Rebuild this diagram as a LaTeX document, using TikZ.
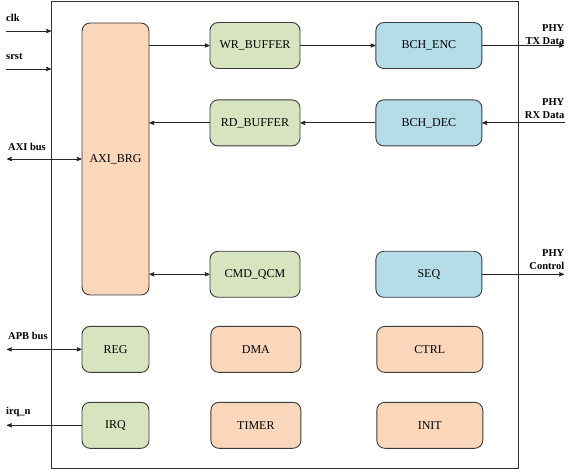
\documentclass[tikz,border=0pt]{standalone}
\usepackage{fontspec}
\setmainfont{Liberation Serif}
\usepackage{tikz}
\usetikzlibrary{shapes}
\usetikzlibrary{arrows,positioning}
\definecolor{blkorange}{HTML}{FAD7BA}
\definecolor{blkgreen}{HTML}{D7E4BF}
\definecolor{blkblue}{HTML}{B5DDE8}
\definecolor{blkline}{HTML}{3C3C3C}
\tikzstyle{blk}=[draw=blkline, line width=0.9pt, rounded corners=8pt, minimum height=46pt, inner sep=0pt, font=\rmfamily\fontsize{12}{14}\selectfont]
\tikzstyle{ob}=[blk, fill=blkorange]
\tikzstyle{gb}=[blk, fill=blkgreen]
\tikzstyle{bb}=[blk, fill=blkblue]
\tikzstyle{sza}=[minimum width=67pt]
\tikzstyle{szb}=[minimum width=90pt]
\tikzstyle{szc}=[minimum width=106pt]
\tikzstyle{wire}=[black!85, line width=0.8pt]
\tikzstyle{lbl}=[inner sep=0pt, font=\rmfamily\bfseries\fontsize{10.5}{13}\selectfont]
\begin{document}
\begin{tikzpicture}[->,>=stealth', x=1pt, y=1pt]
  \useasboundingbox (0,0) rectangle (573,-470);
%
  \node[draw=black!80, line width=1pt, inner sep=0pt, minimum width=466.5pt, minimum height=466pt] (chip) at (284.75,-235) {};
%
  \node[ob, sza, minimum height=272pt] (axi) at (115.5,-159) {AXI\_BRG};
  \node[gb, szb] (wr) at (255,-45.5) {WR\_BUFFER};
  \node[bb, szc] (enc) [right = 75pt of wr] {BCH\_ENC};
  \node[gb, szb] (rd) [below = 30.5pt of wr] {RD\_BUFFER};
  \node[bb, szc] (dec) [right = 75pt of rd] {BCH\_DEC};
  \node[gb, szb] (cmd) [below = 104.5pt of rd] {CMD\_QCM};
  \node[bb, szc] (seq) [right = 75pt of cmd] {SEQ};
%
  \node[gb, sza] (reg) [below = 30.5pt of axi] {REG};
  \node[ob, szb] (dma) [right = 61pt of reg] {DMA};
  \node[ob, szc] (ctrl) [right = 75pt of dma] {CTRL};
  \node[gb, sza] (irq) [below = 29pt of reg] {IRQ};
  \node[ob, szb] (timer) [right = 61pt of irq] {TIMER};
  \node[ob, szc] (init) [right = 75pt of timer] {INIT};
%
  \coordinate (clkin) at (6,-31);
  \coordinate (srstin) at (6,-69);
  \coordinate (axiin) at (7,-159);
  \coordinate (apbin) at (7,-348.5);
  \coordinate (irqout) at (7,-423.5);
  \coordinate (txout) at (564,-45.5);
  \coordinate (rxin) at (565,-122);
  \coordinate (ctlout) at (564,-272.5);
%
  \node[lbl, anchor=base west] (clklbl) at (6,-21.7) {clk};
  \node[lbl, anchor=base west] (srstlbl) at (6,-60) {srst};
  \node[lbl, anchor=base west] (axilbl) at (8,-150.7) {AXI bus};
  \node[lbl, anchor=base west] (apblbl) at (8,-339) {APB bus};
  \node[lbl, anchor=base west] (irqlbl) at (6,-414) {irq\_n};
  \node[lbl, align=right, anchor=north east] (txlbl) at (564.5,-24) {PHY\\TX Data};
  \node[lbl, align=right, anchor=north east] (rxlbl) at (564.5,-98.5) {PHY\\RX Data};
  \node[lbl, align=right, anchor=north east] (ctllbl) at (564.5,-249.5) {PHY\\Control};
%
  \path[wire]
  (clkin) edge (clkin -| chip.west)
  (srstin) edge (srstin -| chip.west)
  (axi.east |- wr) edge (wr)
  (wr) edge (enc)
  (enc) edge (enc -| txout)
  (rxin |- dec) edge (dec)
  (dec) edge (rd)
  (rd) edge (axi.east |- rd)
  (seq) edge (seq -| ctlout)
  (irq) edge (irq -| irqout);
%
  \path[wire, <->]
  (axiin |- axi) edge (axi)
  (apbin |- reg) edge (reg)
  (axi.east |- cmd) edge (cmd);
\end{tikzpicture}
\end{document}
